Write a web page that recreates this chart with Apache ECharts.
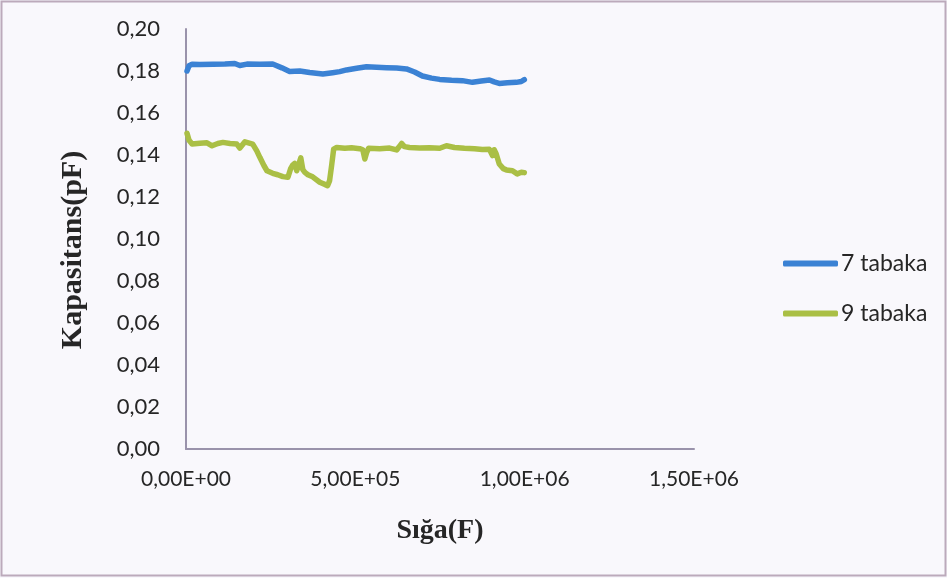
<!DOCTYPE html>
<html>
<head>
<meta charset="utf-8">
<script src="https://cdn.jsdelivr.net/npm/echarts@6/dist/echarts.min.js"></script>
<style>
  html, body { margin: 0; padding: 0; background: #f9f8fc; }
  #chart { width: 947px; height: 578px; }
</style>
</head>
<body>
<div id="chart"></div>
<script>
// Capacitance vs. frequency for two layer counts
const seriesNames = ['7 tabaka', '9 tabaka'];

const x7 = [3000, 9000, 18000, 41000, 80000, 115000, 144000, 159000, 180000, 218000,
  256000, 283000, 306000, 336000, 365000, 404000, 433000, 454000, 474000, 504000,
  533000, 563000, 592000, 622000, 651000, 675000, 698000, 725000, 749000, 784000,
  816000, 846000, 872000, 896000, 910000, 925000, 949000, 975000, 990000, 999000];
const y7 = [0.1800, 0.1825, 0.1832, 0.1831, 0.1832, 0.1833, 0.1836, 0.1826, 0.1833, 0.1832,
  0.1833, 0.1815, 0.1798, 0.1800, 0.1793, 0.1786, 0.1792, 0.1797, 0.1805, 0.1813,
  0.1820, 0.1818, 0.1816, 0.1814, 0.1810, 0.1795, 0.1776, 0.1766, 0.1760, 0.1756,
  0.1754, 0.1746, 0.1752, 0.1757, 0.1748, 0.1741, 0.1744, 0.1746, 0.1750, 0.1759];

const x9 = [3000, 9000, 18000, 41000, 62000, 77000, 94000, 109000, 130000, 150000,
  159000, 174000, 197000, 209000, 218000, 230000, 239000, 256000, 271000, 286000,
  301000, 309000, 315000, 321000, 327000, 333000, 339000, 345000, 351000, 360000,
  374000, 395000, 410000, 418000, 424000, 430000, 436000, 445000, 469000, 489000,
  513000, 522000, 528000, 533000, 539000, 572000, 601000, 622000, 630000, 637000,
  645000, 660000, 690000, 719000, 749000, 769000, 793000, 822000, 852000, 875000,
  896000, 905000, 910000, 916000, 925000, 937000, 946000, 964000, 978000, 990000, 999000];
const y9 = [0.1503, 0.1470, 0.1452, 0.1456, 0.1458, 0.1444, 0.1455, 0.1460, 0.1455, 0.1452,
  0.1433, 0.1463, 0.1452, 0.1420, 0.1389, 0.1350, 0.1325, 0.1313, 0.1306, 0.1297,
  0.1294, 0.1335, 0.1352, 0.1360, 0.1325, 0.1355, 0.1386, 0.1330, 0.1317, 0.1306,
  0.1296, 0.1270, 0.1260, 0.1254, 0.1278, 0.1350, 0.1428, 0.1436, 0.1432, 0.1434,
  0.1430, 0.1425, 0.1381, 0.1410, 0.1432, 0.1430, 0.1433, 0.1424, 0.1440, 0.1455,
  0.1440, 0.1436, 0.1433, 0.1434, 0.1432, 0.1444, 0.1436, 0.1432, 0.1430, 0.1426,
  0.1427, 0.1397, 0.1425, 0.1405, 0.1357, 0.1335, 0.1329, 0.1325, 0.1310, 0.1318, 0.1316];

const xTitle = 'Sığa(F)';
const yTitle = 'Kapasitans(pF)';

function zip(xs, ys) { return xs.map((x, i) => [x, ys[i]]); }

// "5.00e+5" -> "5,00E+05"
function sciLabel(v) {
  const s = Number(v).toExponential(2);
  const m = s.split('e');
  const sign = m[1][0];
  let exp = m[1].slice(1);
  if (exp.length < 2) exp = '0' + exp;
  return m[0].replace('.', ',') + 'E' + sign + exp;
}

const axisColor = '#9a93ab';
const textColor = '#262626';
const tickFont = 'Lato, "Open Sans", sans-serif';

const chart = echarts.init(document.getElementById('chart'), null, { renderer: 'canvas' });
chart.setOption({
  backgroundColor: '#f9f8fc',
  animation: false,
  color: ['#3b82d4', '#aabf45'],
  grid: { left: 186, right: 253, top: 29, bottom: 129, containLabel: false },
  legend: {
    data: seriesNames,
    orient: 'vertical',
    left: 783,
    top: 252,
    padding: 0,
    icon: 'roundRect',
    itemWidth: 55,
    itemHeight: 6,
    itemGap: 27,
    textStyle: { fontFamily: tickFont, fontSize: 23, color: textColor, padding: [0, 0, 0, -2] }
  },
  xAxis: {
    type: 'value',
    min: 0,
    max: 1500000,
    interval: 500000,
    name: xTitle,
    nameLocation: 'middle',
    nameGap: 68,
    nameTextStyle: { fontFamily: '"Liberation Serif", serif', fontWeight: 'bold', fontSize: 28, color: textColor },
    axisLine: { show: true, lineStyle: { color: axisColor, width: 2 } },
    axisTick: { show: false },
    splitLine: { show: false },
    axisLabel: { formatter: sciLabel, margin: 20, fontFamily: tickFont, fontSize: 21, color: textColor }
  },
  yAxis: {
    type: 'value',
    min: 0,
    max: 0.2,
    interval: 0.02,
    name: yTitle,
    nameLocation: 'middle',
    nameRotate: 90,
    nameGap: 98,
    nameTextStyle: {
      fontFamily: '"Liberation Serif", serif', fontWeight: 'bold', fontSize: 30, color: textColor,
      padding: [0, 22, 0, 0]
    },
    axisLine: { show: true, lineStyle: { color: axisColor, width: 2 } },
    axisTick: { show: false },
    splitLine: { show: false },
    axisLabel: {
      formatter: v => v.toFixed(2).replace('.', ','),
      margin: 26, fontFamily: tickFont, fontSize: 22, color: textColor
    }
  },
  graphic: [{
    type: 'rect',
    shape: { x: 1.5, y: 1.5, width: 944, height: 574 },
    style: { fill: null, stroke: '#bcaabb', lineWidth: 2 },
    silent: true
  }],
  series: [
    {
      name: seriesNames[0], type: 'line', data: zip(x7, y7), showSymbol: false,
      lineStyle: { width: 5.5, cap: 'round', join: 'round' }
    },
    {
      name: seriesNames[1], type: 'line', data: zip(x9, y9), showSymbol: false,
      lineStyle: { width: 5.5, cap: 'round', join: 'round' }
    }
  ]
});
</script>
</body>
</html>
